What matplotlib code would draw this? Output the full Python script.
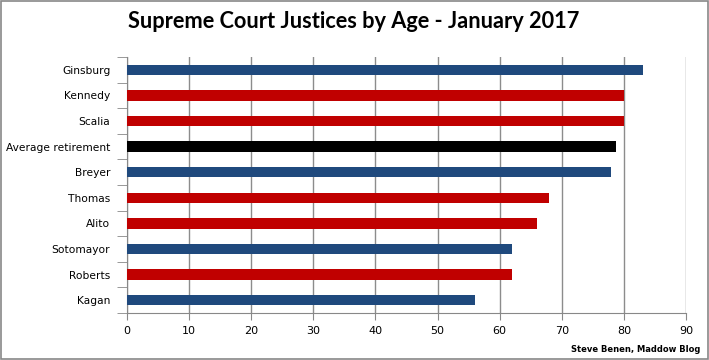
import matplotlib.pyplot as plt
from matplotlib.patches import Rectangle

names = ["Ginsburg", "Kennedy", "Scalia", "Average retirement", "Breyer",
         "Thomas", "Alito", "Sotomayor", "Roberts", "Kagan"]
ages = [83, 80, 80, 78.7, 78, 68, 66, 62, 62, 56]
colors = ["#1F497D", "#C00000", "#C00000", "#000000", "#1F497D",
          "#C00000", "#C00000", "#1F497D", "#C00000", "#1F497D"]
xticks = [0, 10, 20, 30, 40, 50, 60, 70, 80, 90]

plt.rcParams['font.family'] = ['DejaVu Sans']

fig = plt.figure(figsize=(7.09, 3.60), dpi=100)
ax = fig.add_axes([127/709, 1 - 313/360, (686-127)/709, (313-57)/360])

ypos = list(range(len(names)))[::-1]
ax.barh(ypos, ages, height=0.4, color=colors, zorder=3)

ax.set_xlim(0, 90)
ax.set_ylim(-0.5, len(names) - 0.5)
ax.set_xticks(xticks)
ax.set_xticklabels([str(t) for t in xticks], fontsize=8)
ax.set_yticks(ypos)
ax.set_yticklabels(names, fontsize=7.7)
ax.tick_params(axis='y', length=0, pad=12)
ax.tick_params(axis='x', length=5, color='#888888', pad=4)

# category boundary ticks on the left
ax.set_yticks([y - 0.5 for y in range(len(names) + 1)], minor=True)
ax.tick_params(axis='y', which='minor', length=7, color='#888888', direction='out')

ax.grid(axis='x', color='#8c8c8c', linewidth=1, zorder=0)
for s in ['top', 'right']:
    ax.spines[s].set_visible(False)
for s in ['left', 'bottom']:
    ax.spines[s].set_color('#888888')

fig.text(354/709, 1 - 22/360, "Supreme Court Justices by Age - January 2017",
         ha='center', va='center', fontsize=15.7, fontweight='bold', family='Lato')
fig.text(700/709, 1 - 350/360, "Steve Benen, Maddow Blog", ha='right', va='center',
         fontsize=6, fontweight='bold')

fig.patches.append(Rectangle((0.001, 0.002), 0.997, 0.995, transform=fig.transFigure,
                             fill=False, edgecolor='#888888', linewidth=1.2))

fig.savefig("out.png", dpi=100)
